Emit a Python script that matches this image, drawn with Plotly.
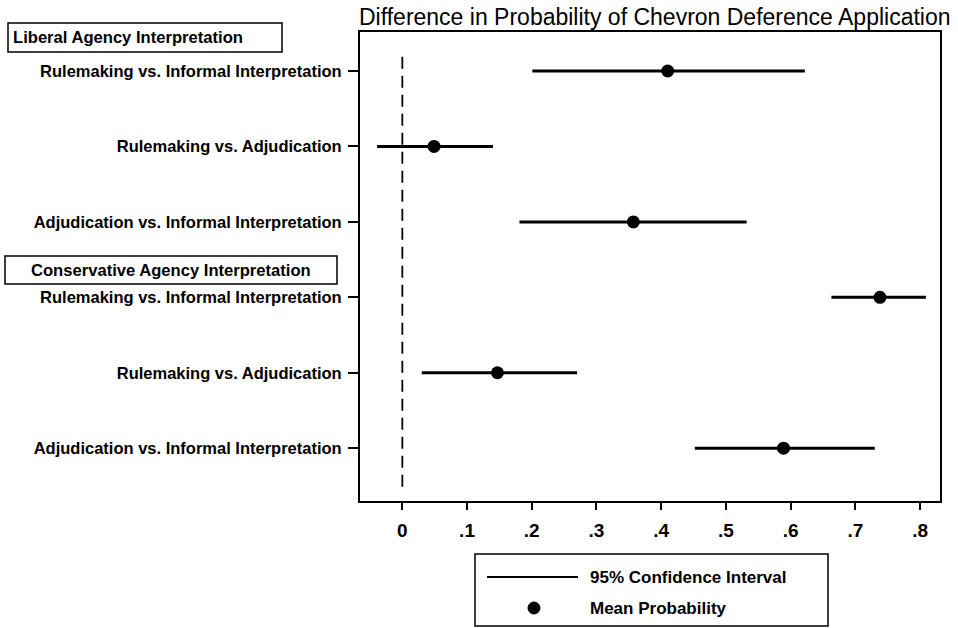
import plotly.graph_objects as go

# ---- data ----
row_labels = [
    "Rulemaking vs. Informal Interpretation",
    "Rulemaking vs. Adjudication",
    "Adjudication vs. Informal Interpretation",
    "Rulemaking vs. Informal Interpretation",
    "Rulemaking vs. Adjudication",
    "Adjudication vs. Informal Interpretation",
]
row_pos = [1, 2, 3, 4, 5, 6]
mean_prob = [0.410, 0.049, 0.357, 0.738, 0.147, 0.589]
ci_low = [0.201, -0.039, 0.181, 0.663, 0.030, 0.452]
ci_high = [0.622, 0.140, 0.532, 0.809, 0.270, 0.730]
x_ticks = [0, 0.1, 0.2, 0.3, 0.4, 0.5, 0.6, 0.7, 0.8]
x_ticktext = ["0", ".1", ".2", ".3", ".4", ".5", ".6", ".7", ".8"]
group_headers = ["Liberal Agency Interpretation", "Conservative Agency Interpretation"]
legend_labels = ["95% Confidence Interval", "Mean Probability"]
title_text = "Difference in Probability of Chevron Deference Application"

W, H = 958, 628
L, R, T, B = 360, 18, 32, 127
PW, PH = W - L - R, H - T - B

def px(xp):
    return (xp - L) / PW

def py(yp):
    return (H - B - yp) / PH

FONT = "Liberation Sans, Arial, sans-serif"

# CI segments
cx, cy = [], []
for lo, hi, p in zip(ci_low, ci_high, row_pos):
    cx += [lo, hi, None]
    cy += [p, p, None]

fig = go.Figure()
fig.add_trace(go.Scatter(x=cx, y=cy, mode="lines",
                         line=dict(color="black", width=3),
                         showlegend=False, hoverinfo="skip"))
fig.add_trace(go.Scatter(x=mean_prob, y=row_pos, mode="markers",
                         marker=dict(color="black", size=13),
                         showlegend=False))

# dashed zero line
fig.add_shape(type="line", xref="x", yref="y", x0=0, x1=0, y0=0.81, y1=6.52,
              line=dict(color="black", width=1.8, dash="12px,7px"))

# group header boxes
fig.add_shape(type="rect", xref="paper", yref="paper",
              x0=px(8), x1=px(282), y0=py(52), y1=py(23),
              line=dict(color="black", width=1.5))
fig.add_annotation(xref="paper", yref="paper", x=px(11), y=py(37.5),
                   text=group_headers[0], showarrow=False, xanchor="left",
                   yanchor="middle",
                   font=dict(family=FONT, size=16.6, color="black", weight="bold"))
fig.add_shape(type="rect", xref="paper", yref="paper",
              x0=px(5), x1=px(337), y0=py(284), y1=py(256),
              line=dict(color="black", width=1.5))
fig.add_annotation(xref="paper", yref="paper", x=px(171), y=py(270),
                   text=group_headers[1], showarrow=False, xanchor="center",
                   yanchor="middle",
                   font=dict(family=FONT, size=16.6, color="black", weight="bold"))

# custom legend
fig.add_shape(type="rect", xref="paper", yref="paper",
              x0=px(475), x1=px(828), y0=py(626), y1=py(554),
              line=dict(color="black", width=1.5))
fig.add_shape(type="line", xref="paper", yref="paper",
              x0=px(487), x1=px(578), y0=py(577), y1=py(577),
              line=dict(color="black", width=2))
fig.add_shape(type="circle", xref="paper", yref="paper",
              x0=px(528), x1=px(540), y0=py(614), y1=py(602),
              fillcolor="black", line=dict(color="black", width=1))
fig.add_annotation(xref="paper", yref="paper", x=px(588), y=py(577),
                   text=legend_labels[0], showarrow=False, xanchor="left",
                   yanchor="middle",
                   font=dict(family=FONT, size=17, color="black", weight="bold"))
fig.add_annotation(xref="paper", yref="paper", x=px(588), y=py(608),
                   text=legend_labels[1], showarrow=False, xanchor="left",
                   yanchor="middle",
                   font=dict(family=FONT, size=17, color="black", weight="bold"))

# title
fig.add_annotation(xref="paper", yref="paper", x=px(655), y=py(17),
                   text=title_text, showarrow=False, xanchor="center",
                   yanchor="middle",
                   font=dict(family=FONT, size=23, color="black"))

fig.update_layout(
    width=W, height=H,
    margin=dict(l=L, r=R, t=T, b=B),
    paper_bgcolor="white", plot_bgcolor="white",
    showlegend=False,
    xaxis=dict(range=[-0.0654, 0.8308], tickvals=x_ticks, ticktext=x_ticktext,
               showgrid=False, zeroline=False, showline=True, mirror=True,
               linecolor="black", linewidth=2, ticks="outside", ticklen=7,
               tickwidth=1.5, tickcolor="black", ticklabelstandoff=4,
               tickfont=dict(family=FONT, size=19, color="black", weight="bold")),
    yaxis=dict(range=[6.70, 0.483], tickvals=row_pos, ticktext=row_labels,
               showgrid=False, zeroline=False, showline=True, mirror=True,
               linecolor="black", linewidth=2, ticks="outside", ticklen=10,
               tickwidth=1.5, tickcolor="black", ticklabelstandoff=3,
               tickfont=dict(family=FONT, size=16.5, color="black", weight="bold")),
)

fig.write_html("out.html")
